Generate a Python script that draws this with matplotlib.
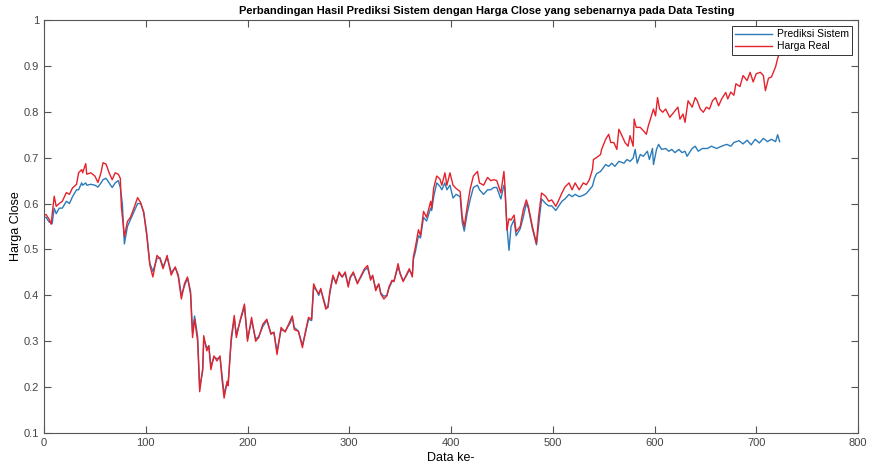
import matplotlib
matplotlib.use("Agg")
import matplotlib.pyplot as plt
import numpy as np

plt.rcParams['font.family'] = ['Liberation Sans Narrow', 'Liberation Sans', 'DejaVu Sans']

# harga real (merah)
x_real = [0, 2, 5, 7, 10, 12, 15, 18, 22, 25, 28, 32, 34, 37, 38, 41, 42, 46, 50, 53,
          56, 58, 61, 64, 67, 70, 73, 75, 76, 79, 82, 85, 89, 92, 95, 98, 101, 104, 107, 111,
          114, 117, 121, 125, 129, 132, 135, 138, 141, 144, 146, 148, 151, 153, 156, 157, 160, 162, 164, 167,
          170, 173, 175, 177, 180, 181, 184, 187, 189, 193, 197, 200, 204, 208, 211, 215, 219, 223, 226, 229,
          233, 237, 242, 244, 246, 250, 254, 257, 260, 263, 265, 268, 270, 272, 274, 277, 279, 281, 284, 287,
          290, 293, 296, 299, 301, 304, 308, 311, 315, 318, 321, 323, 326, 329, 331, 334, 337, 339, 342, 344,
          348, 350, 353, 356, 359, 362, 363, 365, 368, 370, 373, 376, 380, 381, 383, 386, 389, 391, 394, 396,
          399, 402, 405, 409, 411, 413, 416, 419, 422, 426, 428, 432, 436, 439, 442, 445, 449, 452, 453, 455,
          457, 459, 462, 464, 468, 471, 474, 476, 480, 484, 486, 489, 493, 496, 499, 503, 506, 509, 512, 516,
          519, 522, 526, 530, 533, 536, 539, 540, 543, 547, 548, 552, 555, 557, 560, 563, 565, 568, 571, 574,
          576, 579, 580, 582, 586, 589, 592, 594, 596, 599, 601, 603, 605, 608, 611, 615, 619, 623, 625, 628,
          630, 633, 637, 640, 642, 645, 648, 651, 654, 657, 660, 663, 666, 670, 672, 675, 678, 680, 684, 687,
          691, 694, 697, 700, 704, 707, 709, 712, 715, 719, 721, 723]
y_real = [0.575, 0.576, 0.566, 0.555, 0.616, 0.594, 0.600, 0.605, 0.624, 0.620, 0.634, 0.642, 0.667, 0.674, 0.667, 0.687, 0.664, 0.667, 0.660, 0.646,
          0.667, 0.689, 0.686, 0.667, 0.652, 0.667, 0.664, 0.655, 0.594, 0.528, 0.561, 0.570, 0.594, 0.613, 0.602, 0.580, 0.530, 0.466, 0.440, 0.487,
          0.480, 0.458, 0.487, 0.444, 0.462, 0.440, 0.392, 0.425, 0.440, 0.403, 0.308, 0.348, 0.300, 0.190, 0.242, 0.312, 0.279, 0.290, 0.238, 0.268,
          0.257, 0.268, 0.216, 0.176, 0.213, 0.203, 0.308, 0.356, 0.308, 0.348, 0.381, 0.300, 0.352, 0.300, 0.308, 0.337, 0.348, 0.315, 0.320, 0.271,
          0.330, 0.320, 0.345, 0.355, 0.325, 0.322, 0.286, 0.322, 0.352, 0.348, 0.425, 0.410, 0.403, 0.415, 0.395, 0.370, 0.374, 0.410, 0.444, 0.425,
          0.451, 0.440, 0.451, 0.418, 0.440, 0.451, 0.425, 0.440, 0.458, 0.465, 0.433, 0.444, 0.410, 0.425, 0.403, 0.392, 0.399, 0.418, 0.433, 0.430,
          0.469, 0.447, 0.430, 0.444, 0.458, 0.440, 0.484, 0.505, 0.543, 0.530, 0.583, 0.570, 0.605, 0.590, 0.634, 0.660, 0.654, 0.640, 0.667, 0.640,
          0.667, 0.640, 0.633, 0.626, 0.572, 0.550, 0.594, 0.633, 0.660, 0.670, 0.645, 0.640, 0.657, 0.650, 0.652, 0.650, 0.623, 0.670, 0.640, 0.542,
          0.567, 0.564, 0.575, 0.539, 0.550, 0.586, 0.608, 0.594, 0.550, 0.513, 0.570, 0.623, 0.616, 0.605, 0.608, 0.594, 0.608, 0.623, 0.636, 0.645,
          0.630, 0.645, 0.630, 0.645, 0.641, 0.652, 0.674, 0.696, 0.700, 0.707, 0.718, 0.740, 0.751, 0.733, 0.733, 0.718, 0.762, 0.748, 0.733, 0.725,
          0.748, 0.725, 0.784, 0.766, 0.766, 0.759, 0.751, 0.770, 0.784, 0.806, 0.791, 0.831, 0.806, 0.799, 0.806, 0.788, 0.799, 0.810, 0.784, 0.795,
          0.777, 0.824, 0.810, 0.831, 0.824, 0.806, 0.799, 0.810, 0.806, 0.824, 0.831, 0.813, 0.828, 0.842, 0.828, 0.843, 0.836, 0.861, 0.855, 0.879,
          0.868, 0.886, 0.865, 0.883, 0.886, 0.879, 0.846, 0.873, 0.876, 0.898, 0.916, 0.930]

# prediksi sistem (biru)
x_pred = [0, 2, 5, 8, 10, 12, 15, 18, 22, 25, 28, 32, 34, 37, 38, 41, 42, 46, 50, 53,
          56, 58, 61, 64, 67, 70, 73, 75, 77, 79, 82, 85, 89, 92, 95, 98, 101, 104, 107, 111,
          114, 117, 121, 125, 129, 132, 135, 138, 141, 144, 146, 148, 151, 153, 156, 157, 160, 162, 164, 167,
          170, 173, 175, 177, 180, 181, 184, 187, 189, 193, 197, 200, 204, 208, 211, 215, 219, 223, 226, 229,
          233, 237, 242, 244, 246, 250, 254, 257, 260, 263, 265, 268, 270, 272, 274, 277, 279, 281, 284, 287,
          290, 293, 296, 299, 301, 304, 308, 311, 315, 318, 321, 323, 326, 329, 331, 334, 337, 339, 342, 344,
          348, 350, 353, 356, 359, 362, 363, 365, 368, 370, 373, 376, 380, 381, 383, 386, 389, 391, 394, 396,
          399, 402, 405, 409, 411, 413, 416, 419, 422, 426, 428, 432, 436, 439, 442, 445, 449, 452, 453, 455,
          457, 459, 462, 464, 468, 471, 474, 476, 480, 484, 486, 489, 493, 496, 499, 503, 506, 509, 512, 516,
          519, 522, 526, 530, 533, 536, 539, 541, 543, 547, 552, 555, 558, 561, 565, 570, 573, 576, 579, 581,
          583, 586, 589, 593, 595, 598, 599, 602, 604, 607, 611, 614, 617, 620, 624, 627, 630, 632, 637, 640,
          643, 647, 652, 656, 661, 666, 671, 675, 678, 683, 687, 691, 695, 699, 703, 707, 711, 715, 719, 721, 723]
y_pred = [0.570, 0.570, 0.560, 0.556, 0.590, 0.578, 0.590, 0.590, 0.605, 0.600, 0.615, 0.630, 0.630, 0.645, 0.640, 0.645, 0.640, 0.642, 0.640, 0.636,
          0.645, 0.652, 0.655, 0.645, 0.635, 0.645, 0.650, 0.635, 0.600, 0.512, 0.550, 0.565, 0.585, 0.600, 0.600, 0.582, 0.535, 0.470, 0.452, 0.480,
          0.482, 0.462, 0.482, 0.450, 0.460, 0.445, 0.400, 0.420, 0.438, 0.410, 0.320, 0.355, 0.310, 0.200, 0.235, 0.305, 0.285, 0.290, 0.245, 0.265,
          0.262, 0.265, 0.225, 0.185, 0.210, 0.210, 0.300, 0.350, 0.315, 0.345, 0.375, 0.305, 0.345, 0.305, 0.310, 0.332, 0.345, 0.318, 0.318, 0.278,
          0.325, 0.322, 0.340, 0.352, 0.330, 0.322, 0.292, 0.318, 0.348, 0.345, 0.418, 0.410, 0.400, 0.412, 0.398, 0.375, 0.374, 0.405, 0.440, 0.428,
          0.448, 0.440, 0.448, 0.422, 0.438, 0.448, 0.428, 0.438, 0.455, 0.460, 0.436, 0.442, 0.415, 0.424, 0.405, 0.398, 0.400, 0.415, 0.430, 0.432,
          0.462, 0.448, 0.432, 0.442, 0.455, 0.445, 0.478, 0.495, 0.530, 0.525, 0.570, 0.562, 0.590, 0.585, 0.615, 0.645, 0.638, 0.630, 0.645, 0.630,
          0.640, 0.612, 0.620, 0.615, 0.560, 0.540, 0.580, 0.610, 0.635, 0.640, 0.630, 0.620, 0.630, 0.630, 0.635, 0.635, 0.610, 0.640, 0.630, 0.550,
          0.498, 0.550, 0.565, 0.530, 0.545, 0.570, 0.600, 0.590, 0.545, 0.510, 0.550, 0.610, 0.600, 0.595, 0.595, 0.585, 0.595, 0.605, 0.610, 0.620,
          0.615, 0.620, 0.615, 0.618, 0.622, 0.630, 0.638, 0.655, 0.665, 0.670, 0.685, 0.681, 0.688, 0.681, 0.692, 0.688, 0.696, 0.692, 0.699, 0.718,
          0.688, 0.707, 0.703, 0.714, 0.696, 0.720, 0.685, 0.718, 0.729, 0.718, 0.720, 0.714, 0.718, 0.711, 0.718, 0.711, 0.714, 0.703, 0.720, 0.725,
          0.714, 0.720, 0.720, 0.725, 0.720, 0.725, 0.729, 0.725, 0.733, 0.737, 0.730, 0.738, 0.728, 0.740, 0.732, 0.742, 0.735, 0.740, 0.735, 0.750, 0.735]

fig = plt.figure(figsize=(8.69, 4.68), dpi=100)
ax = fig.add_axes([44/869, 35/468, 814/869, 413/468])

ax.plot(x_pred, y_pred, color='#2b7bba', lw=1.0, label='Prediksi Sistem')
ax.plot(x_real, y_real, color='#e5222b', lw=1.0, label='Harga Real')

ax.set_xlim(0, 800)
ax.set_ylim(0.1, 1)
ax.set_xticks(np.arange(0, 801, 100))
yt = np.round(np.arange(0.1, 1.01, 0.1), 1)
ax.set_yticks(yt)
ax.set_yticklabels([('%g' % v) for v in yt])
ax.tick_params(direction='in', length=5, width=0.8, top=True, right=True,
               labelsize=8, colors='#555555', labelcolor='#444444')
for s in ax.spines.values():
    s.set_color('#555555')
    s.set_linewidth(0.8)

ax.set_title('Perbandingan Hasil Prediksi Sistem dengan Harga Close yang sebenarnya pada Data Testing',
             fontsize=8, fontweight='bold', pad=4, x=0.544)
ax.set_xlabel('Data ke-', fontsize=9, labelpad=3)
ax.set_ylabel('Harga Close', fontsize=9, labelpad=1)

leg = ax.legend(loc='upper right', fontsize=7.5, fancybox=False, framealpha=1,
                edgecolor='#333333', handlelength=3.6, borderpad=0.3,
                labelspacing=0.2, handletextpad=0.4, borderaxespad=0.6)
leg.get_frame().set_linewidth(0.7)

fig.savefig('out.png', dpi=100)
